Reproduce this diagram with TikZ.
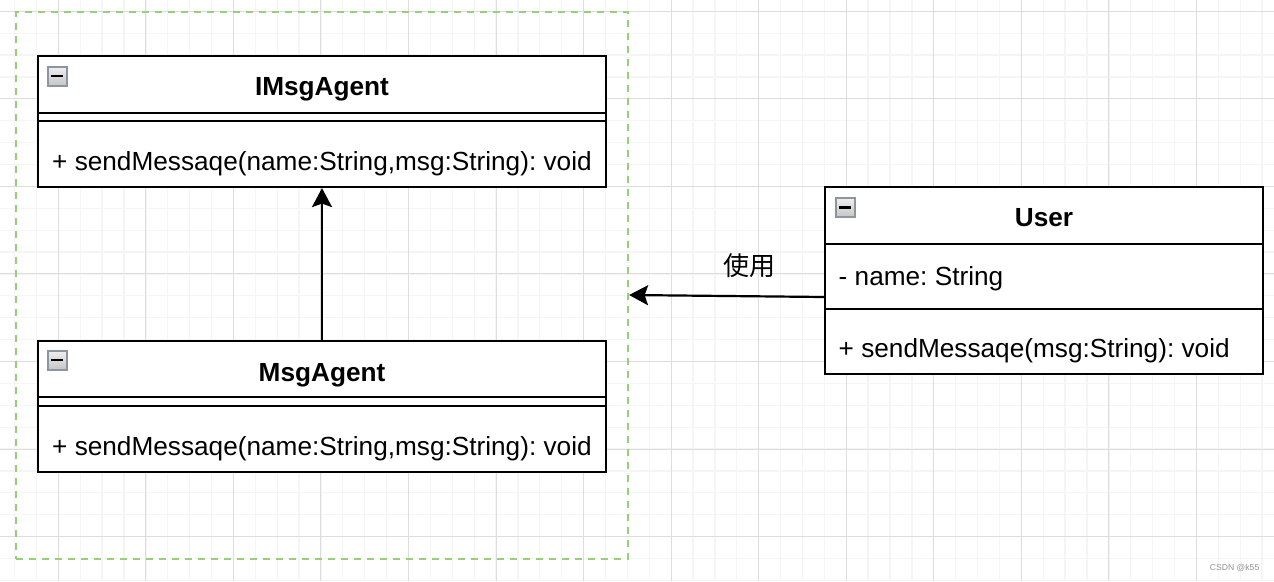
\documentclass[tikz,border=0pt]{standalone}
\usepackage{fontspec}
\setmainfont{Liberation Sans}
\newfontfamily\cjk{Noto Sans CJK SC}
\usetikzlibrary{arrows.meta}
\definecolor{gridminor}{HTML}{F5F5F5}
\definecolor{gridmajor}{HTML}{DDDDDD}
\definecolor{grpgreen}{HTML}{97D077}
\definecolor{iconedge}{HTML}{8D96A0}
\frenchspacing
\tikzset{
  classbox/.style={draw, line width=2.2pt, fill=white, inner sep=0pt, rectangle},
  ttl/.style={font=\fontsize{26.2}{30}\selectfont\bfseries, anchor=base, inner sep=0pt},
  mtxt/.style={font=\fontsize{26.2}{30}\selectfont\frenchspacing, anchor=base west, inner sep=0pt},
  divider/.style={line width=2.2pt},
  arr/.style={line width=2.2pt, -{Stealth[length=19pt,width=20pt,inset=3.5pt]}},
  groupbox/.style={draw=grpgreen, line width=2.2pt, dash pattern=on 7pt off 6pt, inner sep=0pt, rectangle},
  gminor/.style={draw=gridminor, line width=1.3pt},
  gmajor/.style={draw=gridmajor, line width=1pt},
  pics/collapse/.style={code={
    \draw[draw=iconedge, line width=2pt, top color=gray!12, bottom color=gray!45] (0,0) rectangle (19,19);
    \draw[line width=2.6pt] (3.5,9.5) -- (15.5,9.5);
  }}
}
\begin{document}
\begin{tikzpicture}[x=1pt, y=-1pt]
\useasboundingbox (0,0) rectangle (1274,581);
\fill[white] (0,0) rectangle (1274,581);
% grid
\foreach \k in {0,...,60} {
  \pgfmathsetmacro\xx{-29.25+21.8875*\k}
  \draw[gminor] (\xx,0) -- (\xx,581);
}
\foreach \k in {0,...,27} {
  \pgfmathsetmacro\yy{-10.59+21.8875*\k}
  \draw[gminor] (0,\yy) -- (1274,\yy);
}
\foreach \k in {0,...,15} {
  \pgfmathsetmacro\xx{-29.25+87.55*\k}
  \draw[gmajor] (\xx,0) -- (\xx,581);
}
\foreach \k in {0,...,6} {
  \pgfmathsetmacro\yy{11.3+87.55*\k}
  \draw[gmajor] (0,\yy) -- (1274,\yy);
}

% group
\node[groupbox, minimum width=612pt, minimum height=546.7pt] (group) at (322,285.65) {};

% IMsgAgent
\node[classbox, minimum width=568pt, minimum height=131pt] (imsg) at (322,121.5) {};
\draw[divider] (imsg.west |- 0,112.7) -- (imsg.east |- 0,112.7);
\draw[divider] (imsg.west |- 0,120.7) -- (imsg.east |- 0,120.7);
\pic at (47.5,66.5) {collapse};
\node[ttl] (imsgT) at (322,95) {IMsgAgent};
\node[mtxt] (imsgM) at (52,170) {+ sendMessaqe(name:String,msg:String): void};

% MsgAgent
\node[classbox, minimum width=568pt, minimum height=131pt] (msg) at (322,406.2) {};
\draw[divider] (msg.west |- 0,396.7) -- (msg.east |- 0,396.7);
\draw[divider] (msg.west |- 0,405.7) -- (msg.east |- 0,405.7);
\pic at (47.5,350.5) {collapse};
\node[ttl] (msgT) at (322,381.5) {MsgAgent};
\node[mtxt] (msgM) at (52,455) {+ sendMessaqe(name:String,msg:String): void};

% User
\node[classbox, minimum width=438pt, minimum height=187pt] (user) at (1044,280.8) {};
\draw[divider] (user.west |- 0,244) -- (user.east |- 0,244);
\draw[divider] (user.west |- 0,309.3) -- (user.east |- 0,309.3);
\pic at (835.5,198) {collapse};
\node[ttl] (userT) at (1044,226.5) {User};
\node[mtxt] (userA) at (838.5,285.3) {- name: String};
\node[mtxt] (userM) at (838.5,357.5) {+ sendMessaqe(msg:String): void};

% connectors
\draw[arr] (msg.north) -- (imsg.south);
\draw[arr] ([yshift=-16.2pt]user.west) -- ([yshift=-9.35pt]group.east);
\node[font=\cjk\fontsize{26}{30}\selectfont, inner sep=0pt] (uselbl) at (749,265.5) {使用};

% watermark
\node[font=\fontsize{8.6}{10}\selectfont, text=gray!85, anchor=east, inner sep=0pt] (wm) at (1259.5,567.5) {CSDN @k55};
\end{tikzpicture}
\end{document}
